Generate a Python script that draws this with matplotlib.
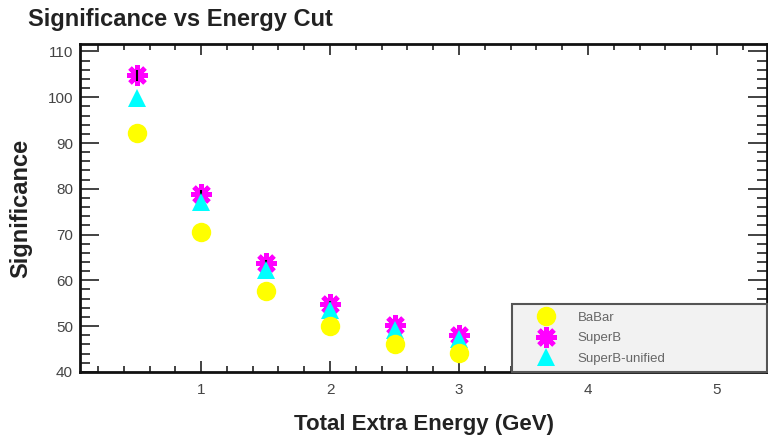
import matplotlib.pyplot as plt
from matplotlib.ticker import MultipleLocator

# energy cut values (GeV) and significance for each scenario
energy_cut = [0.5, 1.0, 1.5, 2.0, 2.5, 3.0]
babar = [92.2, 70.5, 57.6, 50.0, 46.0, 44.2]
superb = [104.8, 78.8, 63.7, 54.9, 50.2, 48.0]
superb_err = [1.2, 0.9, 0.7, 0.6, 0.5, 0.5]
superb_unified = [99.8, 77.2, 62.2, 53.6, 49.2, 47.2]

plt.rcParams['font.family'] = ['Liberation Sans', 'DejaVu Sans']

fig = plt.figure(figsize=(7.68, 4.37), dpi=100)
ax = fig.add_axes([0.104, 0.149, 0.895, 0.75])

ax.errorbar(energy_cut, superb, yerr=superb_err, fmt='none', ecolor='black',
            elinewidth=1.5, capsize=0, zorder=3)
ax.plot(energy_cut, superb, linestyle='none', marker=(8, 2, 0), markersize=15,
        markeredgewidth=3.5, color='#ff00ff', label='SuperB', zorder=2)
ax.plot(energy_cut, superb_unified, linestyle='none', marker='^', markersize=13,
        color='#00ffff', markeredgewidth=0, label='SuperB-unified', zorder=4)
ax.plot(energy_cut, babar, linestyle='none', marker='o', markersize=14,
        color='#ffff00', markeredgewidth=0, label='BaBar', zorder=5)

ax.set_xlim(0.06, 5.39)
ax.set_ylim(40, 111.6)
ax.xaxis.set_major_locator(MultipleLocator(1))
ax.xaxis.set_minor_locator(MultipleLocator(0.2))
ax.yaxis.set_major_locator(MultipleLocator(10))
ax.yaxis.set_minor_locator(MultipleLocator(2))
ax.tick_params(which='both', direction='in', top=True, right=True,
               labelsize=11, labelcolor='#444444', color='#222222', width=1.2)
ax.tick_params(axis='x', which='major', length=8, pad=8)
ax.tick_params(axis='x', which='minor', length=4)
ax.tick_params(axis='y', which='major', length=14, pad=5)
ax.tick_params(axis='y', which='minor', length=7)
for side in ax.spines.values():
    side.set_linewidth(2)
    side.set_color('#111111')

ax.set_xlabel('Total Extra Energy (GeV)', fontsize=16, fontweight='bold',
              labelpad=12, color='#222222')
ax.set_ylabel('Significance', fontsize=17, fontweight='bold', labelpad=11,
              color='#222222')
fig.text(0.036, 0.955, 'Significance vs Energy Cut', fontsize=17,
         fontweight='bold', ha='left', va='center', color='#222222')

handles, labels = ax.get_legend_handles_labels()
order = [2, 0, 1]
leg = ax.legend([handles[i] for i in order], [labels[i] for i in order],
                loc='lower left', bbox_to_anchor=(0.629, 0.0, 0.371, 0.204),
                mode='expand', fontsize=9.5, fancybox=False, borderaxespad=0,
                handlelength=4.0, handletextpad=0.4, labelspacing=0.62,
                borderpad=0.55, markerscale=1.0)
leg.get_frame().set_facecolor('#f2f2f2')
leg.get_frame().set_edgecolor('#555555')
leg.get_frame().set_linewidth(1.5)
leg.get_frame().set_alpha(1)
for t in leg.get_texts():
    t.set_color('#666666')

fig.savefig('out.png', dpi=100)
